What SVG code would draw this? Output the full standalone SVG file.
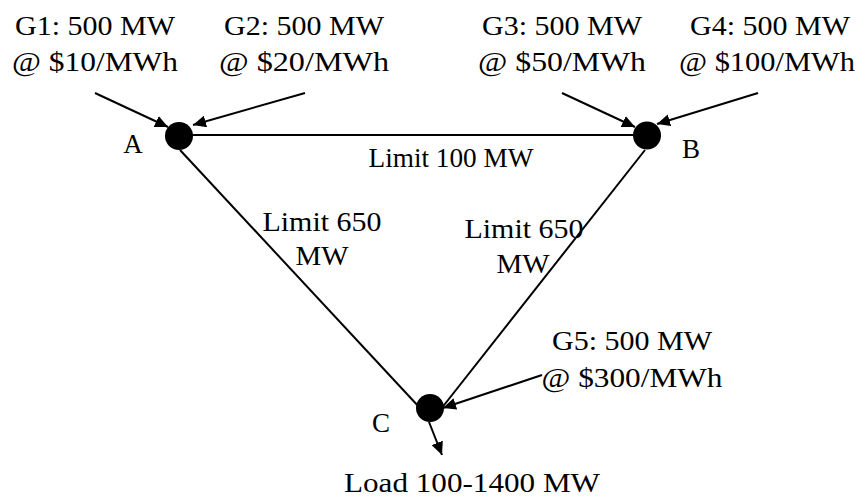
<svg xmlns="http://www.w3.org/2000/svg" width="865" height="497" viewBox="0 0 865 497">
  <style>
    text { font-family: "Liberation Serif", "DejaVu Serif", serif; font-size: 27px; fill: #000; text-anchor: middle; }
    .line { stroke: #000; stroke-width: 2; fill: none; }
    .arrow { stroke: #000; stroke-width: 2; fill: none; marker-end: url(#head); }
    .bus { fill: #000; }
  </style>
  <defs>
    <marker id="head" markerUnits="userSpaceOnUse" markerWidth="14" markerHeight="12" refX="13" refY="6" orient="auto">
      <path d="M0,0 L13,6 L0,12 Z" fill="#000"/>
    </marker>
  </defs>

  <!-- transmission lines and generator/load arrows -->
  <g id="connectors">
    <line class="line" x1="179" y1="135" x2="647" y2="135"/>
    <line class="line" x1="180" y1="150" x2="420" y2="408"/>
    <line class="line" x1="645" y1="150" x2="441" y2="409"/>
    <line class="arrow" x1="95" y1="93" x2="168" y2="127"/>
    <line class="arrow" x1="305" y1="93" x2="193" y2="125"/>
    <line class="arrow" x1="562" y1="93" x2="635" y2="127"/>
    <line class="arrow" x1="758" y1="93" x2="657" y2="124"/>
    <line class="arrow" x1="542" y1="375" x2="443" y2="408"/>
    <line class="arrow" x1="429" y1="422" x2="442" y2="455"/>
  </g>

  <g id="bus-A">
    <circle class="bus" cx="179" cy="136" r="14"/>
    <text x="133" y="153">A</text>
  </g>
  <g id="bus-B">
    <circle class="bus" cx="647" cy="135.5" r="14"/>
    <text x="691" y="158">B</text>
  </g>
  <g id="bus-C">
    <circle class="bus" cx="430" cy="408" r="14"/>
    <text x="381" y="432">C</text>
  </g>

  <g id="gen-G1">
    <text x="95" y="35" textLength="160" lengthAdjust="spacingAndGlyphs">G1: 500 MW</text>
    <text x="95" y="71" textLength="166" lengthAdjust="spacingAndGlyphs">@ $10/MWh</text>
  </g>
  <g id="gen-G2">
    <text x="304" y="35" textLength="160" lengthAdjust="spacingAndGlyphs">G2: 500 MW</text>
    <text x="304" y="71" textLength="170" lengthAdjust="spacingAndGlyphs">@ $20/MWh</text>
  </g>
  <g id="gen-G3">
    <text x="562" y="35" textLength="160" lengthAdjust="spacingAndGlyphs">G3: 500 MW</text>
    <text x="562" y="71" textLength="168" lengthAdjust="spacingAndGlyphs">@ $50/MWh</text>
  </g>
  <g id="gen-G4">
    <text x="770" y="35" textLength="160" lengthAdjust="spacingAndGlyphs">G4: 500 MW</text>
    <text x="767" y="71" textLength="176" lengthAdjust="spacingAndGlyphs">@ $100/MWh</text>
  </g>
  <g id="gen-G5">
    <text x="632" y="350" textLength="160" lengthAdjust="spacingAndGlyphs">G5: 500 MW</text>
    <text x="632" y="387" textLength="181" lengthAdjust="spacingAndGlyphs">@ $300/MWh</text>
  </g>

  <g id="limit-AB">
    <text x="451" y="167" textLength="165" lengthAdjust="spacingAndGlyphs">Limit 100 MW</text>
  </g>
  <g id="limit-AC">
    <text x="322" y="231" textLength="119" lengthAdjust="spacingAndGlyphs">Limit 650</text>
    <text x="322" y="265" textLength="53" lengthAdjust="spacingAndGlyphs">MW</text>
  </g>
  <g id="limit-BC">
    <text x="524" y="238" textLength="119" lengthAdjust="spacingAndGlyphs">Limit 650</text>
    <text x="523" y="273" textLength="53" lengthAdjust="spacingAndGlyphs">MW</text>
  </g>

  <g id="load-C">
    <text x="472" y="492" textLength="256" lengthAdjust="spacingAndGlyphs">Load 100-1400 MW</text>
  </g>
</svg>
